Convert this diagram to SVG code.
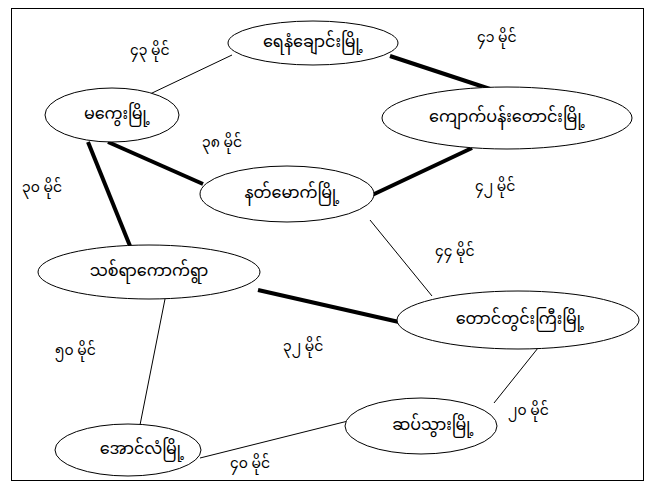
<svg xmlns="http://www.w3.org/2000/svg" width="656" height="490" viewBox="0 0 656 490">
<style>
.n ellipse{fill:#fff;stroke:#000;stroke-width:1}
text{font-family:"Noto Sans Myanmar","Padauk","Myanmar Text","Noto Sans",sans-serif;font-size:14px;fill:#000}
.n text{text-anchor:middle;dominant-baseline:central;font-size:16px}
.thin{stroke:#000;stroke-width:1;fill:none}
.thick{stroke:#000;stroke-width:4;fill:none}
</style>
<rect x="11.5" y="8.5" width="632" height="472" fill="#fff" stroke="#000" stroke-width="1"/>
<g id="connectors">
<line class="thin" x1="232" y1="55" x2="150" y2="94"/>
<line class="thick" x1="390" y1="56" x2="490" y2="89"/>
<line class="thick" x1="472" y1="148" x2="370" y2="196"/>
<line class="thick" x1="108" y1="142" x2="203" y2="184"/>
<line class="thick" x1="88" y1="142" x2="130" y2="246"/>
<line class="thin" x1="370" y1="220" x2="432" y2="296"/>
<line class="thick" x1="258" y1="290" x2="399" y2="322"/>
<line class="thin" x1="165" y1="299" x2="140" y2="425"/>
<line class="thin" x1="538" y1="348" x2="494" y2="403"/>
<line class="thin" x1="348" y1="421" x2="200" y2="458"/>
</g>
<g id="labels">
<text x="130" y="55">၄၃ မိုင်</text>
<text x="477" y="42">၄၁ မိုင်</text>
<text x="22" y="192">၃၀ မိုင်</text>
<text x="202" y="147">၃၈ မိုင်</text>
<text x="475" y="191">၄၂ မိုင်</text>
<text x="435" y="256">၄၄ မိုင်</text>
<text x="283" y="351">၃၂ မိုင်</text>
<text x="55" y="355">၅၀ မိုင်</text>
<text x="508" y="415">၂၀ မိုင်</text>
<text x="230" y="468">၄၀ မိုင်</text>
</g>
<g id="n1" class="n"><ellipse cx="313" cy="43" rx="85" ry="22"/><text x="313" y="43">ရေနံချောင်းမြို့</text></g>
<g id="n2" class="n"><ellipse cx="507" cy="118" rx="125" ry="31"/><text x="507" y="118">ကျောက်ပန်းတောင်းမြို့</text></g>
<g id="n3" class="n"><ellipse cx="112" cy="115" rx="67" ry="27"/><text x="117" y="115">မကွေးမြို့</text></g>
<g id="n4" class="n"><ellipse cx="287" cy="194" rx="87" ry="28"/><text x="292" y="194">နတ်မောက်မြို့</text></g>
<g id="n5" class="n"><ellipse cx="149" cy="272" rx="111" ry="27"/><text x="149" y="272">သစ်ရာကောက်ရွာ</text></g>
<g id="n6" class="n"><ellipse cx="518" cy="320" rx="121" ry="29"/><text x="520" y="320">တောင်တွင်းကြီးမြို့</text></g>
<g id="n7" class="n"><ellipse cx="421" cy="426" rx="76" ry="28"/><text x="433" y="426">ဆပ်သွားမြို့</text></g>
<g id="n8" class="n"><ellipse cx="128" cy="450" rx="73" ry="26"/><text x="142" y="450">အောင်လံမြို့</text></g>
</svg>
